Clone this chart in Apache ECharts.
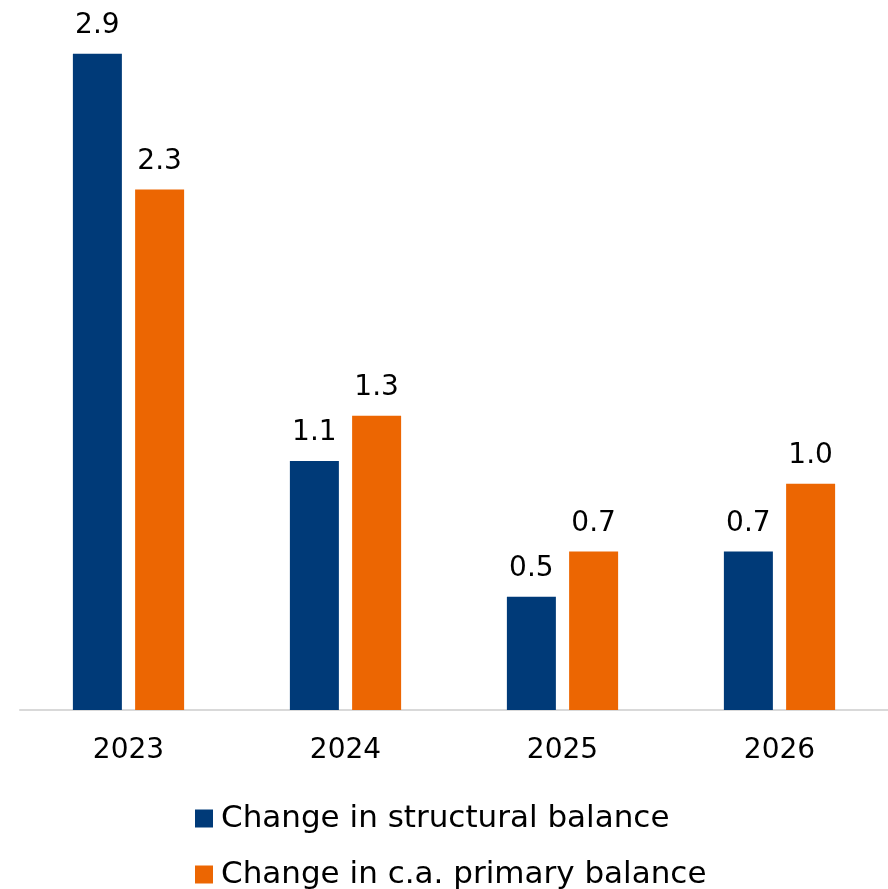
<!DOCTYPE html>
<html>
<head>
<meta charset="utf-8">
<script src="https://cdn.jsdelivr.net/npm/echarts@6/dist/echarts.min.js"></script>
<style>
  html, body { margin: 0; padding: 0; background: #ffffff; }
  #chart { width: 888px; height: 889px; }
</style>
</head>
<body>
<div id="chart"></div>
<script>
// Fiscal effort by year (percentage points)
const years = ['2023', '2024', '2025', '2026'];
const structuralBalance = [2.9, 1.1, 0.5, 0.7];
const primaryBalance = [2.3, 1.3, 0.7, 1.0];
const seriesNames = ['Change in structural balance', 'Change in c.a. primary balance'];

const FONT = 'DejaVu Sans';
const chart = echarts.init(document.getElementById('chart'));

const valueLabel = {
  show: true,
  position: 'top',
  distance: 14,
  color: '#000000',
  fontFamily: FONT,
  fontSize: 28,
  formatter: p => p.value.toFixed(1)
};

// one legend block per row so the two entries stack under each other
const legendRow = (name, top) => ({
  orient: 'vertical',
  left: 195,
  top: top,
  padding: 0,
  itemWidth: 18,
  itemHeight: 18,
  icon: 'rect',
  textStyle: { fontFamily: FONT, fontSize: 31, color: '#000000', padding: [0, 0, 0, 3] },
  data: [name]
});

chart.setOption({
  animation: false,
  backgroundColor: '#ffffff',
  grid: { left: 20, right: -2, top: 31, bottom: 179, containLabel: false },
  legend: [legendRow(seriesNames[0], 803), legendRow(seriesNames[1], 859)],
  xAxis: {
    type: 'category',
    data: years,
    axisLine: { show: true, lineStyle: { color: '#d9d9d9', width: 2 } },
    axisTick: { show: false },
    axisLabel: { fontFamily: FONT, fontSize: 28, color: '#000000', margin: 27 }
  },
  yAxis: {
    type: 'value',
    min: 0,
    max: 3,
    show: false,
    splitLine: { show: false }
  },
  series: [
    {
      name: seriesNames[0],
      type: 'bar',
      data: structuralBalance,
      barWidth: 49,
      barGap: '27%',
      itemStyle: { color: '#003a78' },
      label: valueLabel
    },
    {
      name: seriesNames[1],
      type: 'bar',
      data: primaryBalance,
      barWidth: 49,
      barGap: '27%',
      itemStyle: { color: '#ec6602' },
      label: valueLabel
    }
  ]
});
</script>
</body>
</html>
